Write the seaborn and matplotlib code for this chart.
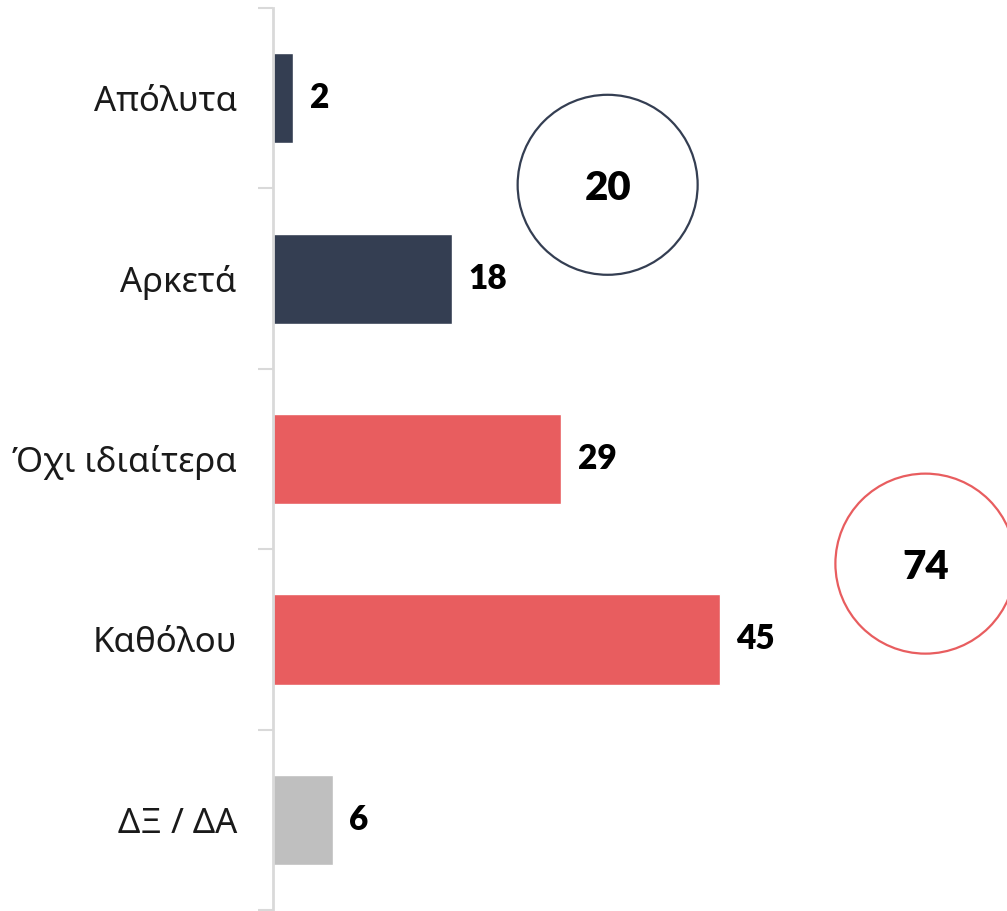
import matplotlib
matplotlib.use("Agg")
import matplotlib.pyplot as plt
import seaborn as sns
import pandas as pd

categories = ["Απόλυτα", "Αρκετά", "Όχι ιδιαίτερα", "Καθόλου", "ΔΞ / ΔΑ"]
values = [2, 18, 29, 45, 6]
colors = ["#343e52", "#343e52", "#e85d5f", "#e85d5f", "#bfbfbf"]
group_labels = ["20", "74"]
group_colors = ["#343e52", "#e85d5f"]
group_pos = [(33.7, 0.48), (65.7, 2.58)]

sns.set_style("white")
plt.rcParams["font.family"] = ["Noto Sans", "DejaVu Sans"]
num_font = ["Lato", "DejaVu Sans"]

df = pd.DataFrame({"cat": categories, "val": values})

fig = plt.figure(figsize=(10.07, 9.11), dpi=100)
ax = fig.add_axes([273 / 1007, 1 / 911, (1007 - 273) / 1007, 902 / 911])

sns.barplot(data=df, x="val", y="cat", hue="cat", palette=colors, legend=False,
            width=0.5, ax=ax, saturation=1, orient="h")

ax.set_xlim(0, (1007 - 273) / 9.93)
ax.set_ylim(4.5, -0.5)

for cont in ax.containers:
    ax.bar_label(cont, padding=12, fontsize=24, fontweight="heavy", color="black",
                 family=num_font)

for (x, y), lab, c in zip(group_pos, group_labels, group_colors):
    ax.scatter([x], [y], s=129.6 ** 2, facecolors="none", edgecolors=c, linewidths=1.6, zorder=3)
    ax.text(x, y + 0.02, lab, ha="center", va="center", fontsize=29, fontweight="heavy",
            color="black", family=num_font)

ax.set_xlabel("")
ax.set_ylabel("")
ax.set_xticks([])
ax.set_yticks(range(len(categories)))
ax.set_yticklabels(categories, fontsize=25, color="#1a1a1a")
ax.set_yticks([i - 0.5 for i in range(len(categories) + 1)], minor=True)
ax.tick_params(axis="y", which="major", left=False, length=0, pad=26)
ax.tick_params(axis="y", which="minor", left=True, length=11, width=1.5, color="#d9d9d9")

for s in ["top", "right", "bottom"]:
    ax.spines[s].set_visible(False)
ax.spines["left"].set_color("#d9d9d9")
ax.spines["left"].set_linewidth(2)

fig.savefig("out.png", dpi=100)
